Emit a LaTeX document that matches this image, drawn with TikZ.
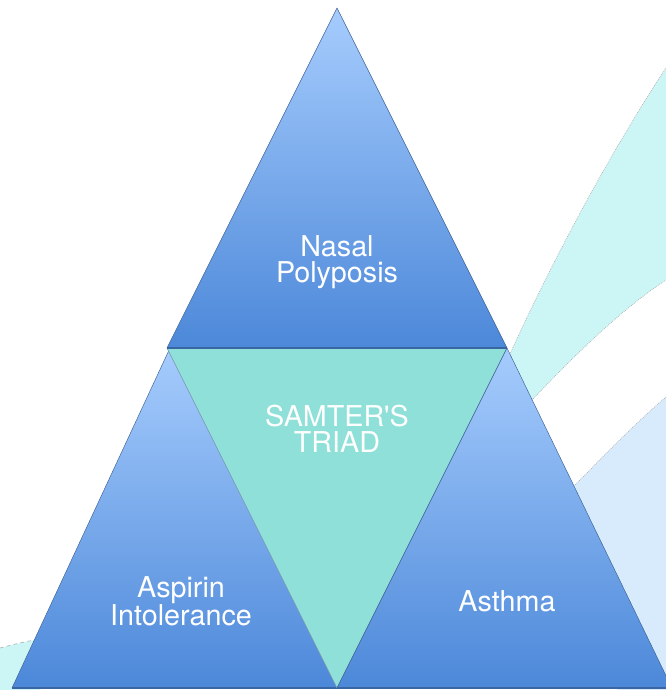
\documentclass[tikz,border=0pt]{standalone}
\usepackage{fontspec}
\setmainfont{TeX Gyre Heros}
\usepackage{tikz}
\usepackage{xcolor}
\usetikzlibrary{
    calc,
    positioning
}
\definecolor{triblutop}{HTML}{A6CCFD}
\definecolor{triblubot}{HTML}{4C88D9}
\definecolor{triteal}{HTML}{8FE0D8}
\definecolor{triedge}{HTML}{3E6396}
\definecolor{swcyan}{HTML}{CCF6F6}
\definecolor{swblue}{HTML}{D7EBFC}
\tikzset{tri/.style={top color=triblutop, bottom color=triblubot, draw=triedge, line width=0.4pt, line join=round}}
\tikzset{triad/.style={fill=triteal, draw=triedge!70, line width=0.4pt, line join=round}}
\tikzset{trbase/.style={draw=triblubot!75!black, line width=1.6pt}}
\tikzset{lbl/.style={text=white, align=center, inner sep=0pt, font=\fontsize{24.5}{22.1}\selectfont}}
\tikzset{swline/.style={draw=gray!65, densely dotted, line width=0.6pt}}

\begin{document}
\begin{tikzpicture}[x=0.03cm, y=-0.03cm]
                        \useasboundingbox (0, 0) rectangle (666, 690);
                        \clip (0, 0) rectangle (666, 690);
                        % swooshes behind
                        \fill[swcyan] (666, 68) .. controls (612, 150) and (552, 260) .. (505, 365)
                        -- (532, 400) .. controls (570, 360) and (620, 310) .. (666, 280) -- cycle;
                        \draw[swline] (666, 68) .. controls (612, 150) and (552, 260) .. (505, 365);
                        \draw[swline] (532, 400) .. controls (570, 360) and (620, 310) .. (666, 280);
                        \fill[swblue] (666, 397) .. controls (630, 428) and (600, 460) .. (565, 495)
                        -- (620, 700) -- (700, 700) -- (700, 397) -- cycle;
                        \draw[swline] (666, 397) .. controls (630, 428) and (600, 460) .. (565, 495);
                        \fill[swcyan] (0, 648) .. controls (15, 644) and (28, 641) .. (40, 639)
                        -- (40, 700) -- (0, 700) -- cycle;
                        \draw[gray!60, dashed, line width=0.6pt] (0, 648) .. controls (15, 644) and (28, 641) .. (40, 639);
                        % corners
                        \coordinate (np) at (337, 8);
                        \coordinate (nl) at (167, 348);
                        \coordinate (nr) at (507, 348);
                        \coordinate (al) at (12, 688);
                        \coordinate (at) at (170, 348);
                        \coordinate (mid) at (337, 688);
                        \coordinate (bt) at (507, 348);
                        \coordinate (br) at (672, 688);
                        % triangles
                        \shade[tri] (al) -- (at) -- (mid) -- cycle;
                        \draw[trbase] (al) -- (mid);
                        \fill[triad] (nl) -- (nr) -- (mid) -- cycle;
                        \shade[tri] (mid) -- (bt) -- (br) -- cycle;
                        \draw[trbase] (mid) -- (br);
                        \shade[tri] (np) -- (nr) -- (nl) -- cycle;
                        \draw[trbase] (nl) -- (nr);
                        % labels
                        \node[lbl] (nasal) at (337, 262) {Nasal\\Polyposis};
                        \node[lbl] (samter) at (337, 429) {SAMTER\textquotesingle S\\TRIAD};
                        \node[lbl] (aspirin) at (181, 601) {Aspirin\\Intolerance};
                        \node[lbl] (asthma) at (507, 601) {Asthma};
                    \end{tikzpicture}
\end{document}
